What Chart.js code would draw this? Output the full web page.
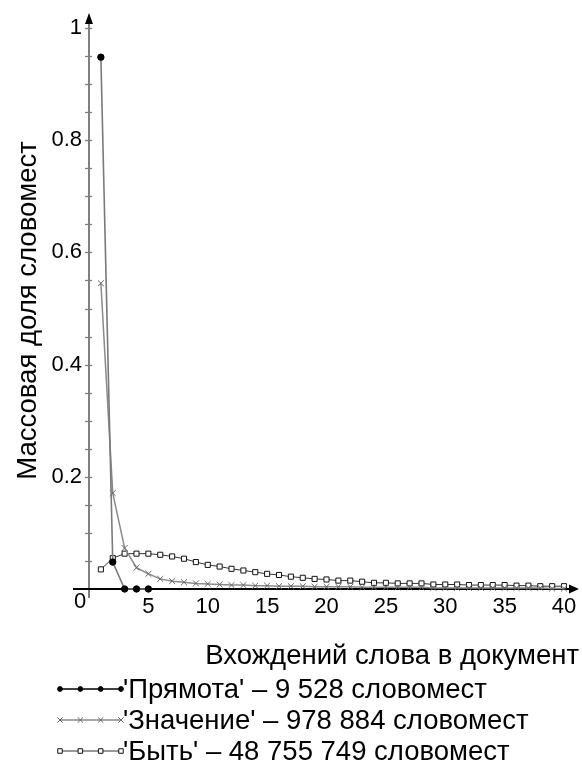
<!DOCTYPE html>
<html><head><meta charset="utf-8">
<script src="https://cdn.jsdelivr.net/npm/chart.js@4.4.1/dist/chart.umd.min.js"></script>
<style>html,body{margin:0;padding:0;background:#fff;}#wrap{width:582px;height:772px;}</style>
</head><body><div id="wrap"><canvas id="c" width="582" height="772"></canvas></div>
<script>
// ---- data ----
const occurrences = [1,2,3,4,5,6,7,8,9,10,11,12,13,14,15,16,17,18,19,20,21,22,23,24,25,26,27,28,29,30,31,32,33,34,35,36,37,38,39,40];
const pryamota = [0.948,0.048,0,0,0];
const znachenie = [0.545,0.171,0.073,0.038,0.027,0.018,0.014,0.012,0.010,0.009,0.008,0.007,0.007,0.006,0.006,0.005,0.005,0.005,0.004,0.004,0.004,0.004,0.003,0.003,0.003,0.003,0.003,0.003,0.002,0.002,0.002,0.002,0.002,0.002,0.002,0.002,0.002,0.002,0.001,0.001];
const byt = [0.035,0.055,0.063,0.063,0.063,0.061,0.058,0.054,0.048,0.043,0.040,0.036,0.033,0.030,0.027,0.025,0.022,0.020,0.018,0.017,0.015,0.015,0.013,0.011,0.011,0.010,0.010,0.010,0.008,0.008,0.008,0.007,0.007,0.007,0.007,0.006,0.006,0.005,0.005,0.005];
const seriesLabels = ["'Прямота' – 9 528 словомест","'Значение' – 978 884 словомест","'Быть' – 48 755 749 словомест"];
const xTickStep = 5;
const yTickStep = 0.2;
const yMinorStep = 0.05;
const xTitle = 'Вхождений слова в документ';
const yTitle = 'Массовая доля словомест';
const originLabel = '0';

const FONT = "'Liberation Sans', Arial, sans-serif";
const toXY = (vals) => vals.map((v,i)=>({x:occurrences[i], y:v}));

const deco = {
  id:'deco',
  beforeDatasetsDraw(chart){
    const {ctx, scales:{x,y}} = chart;
    const x0 = x.getPixelForValue(0), y0 = y.getPixelForValue(0);
    ctx.save();
    ctx.strokeStyle='#808080'; ctx.lineWidth=2;
    ctx.beginPath(); ctx.moveTo(x0, y0+9); ctx.lineTo(x0, y.top-8); ctx.stroke();
    ctx.lineWidth=1.3;
    for (let v=yMinorStep; v<=1.0001; v+=yMinorStep){
      const py = Math.round(y.getPixelForValue(v))+0.5;
      ctx.beginPath(); ctx.moveTo(x0-4,py); ctx.lineTo(x0+3,py); ctx.stroke();
    }
    ctx.fillStyle='#000';
    ctx.beginPath(); ctx.moveTo(x0, y.top-15); ctx.lineTo(x0-4, y.top-4); ctx.lineTo(x0+4, y.top-4); ctx.closePath(); ctx.fill();
    ctx.strokeStyle='#000'; ctx.lineWidth=2;
    ctx.beginPath(); ctx.moveTo(x0-16, y0); ctx.lineTo(x.right+8, y0); ctx.stroke();
    ctx.beginPath(); ctx.moveTo(x.right+15, y0); ctx.lineTo(x.right+5, y0-4.5); ctx.lineTo(x.right+5, y0+4.5); ctx.closePath(); ctx.fill();
    ctx.restore();
  },
  afterDraw(chart){
    const {ctx, scales:{x,y}} = chart;
    const x0 = x.getPixelForValue(0), y0 = y.getPixelForValue(0);
    ctx.save();
    ctx.fillStyle='#000';
    ctx.font = '22px '+FONT;
    ctx.textAlign='center'; ctx.textBaseline='middle';
    ctx.fillText(originLabel, x0-9, y0+13);
    ctx.font = '27.5px '+FONT;
    ctx.save();
    ctx.translate(28, (y.top+y.bottom)/2+2);
    ctx.rotate(-Math.PI/2);
    ctx.fillText(yTitle, 0, 0);
    ctx.restore();
    ctx.textAlign='right';
    ctx.fillText(xTitle, 579, 656);
    const sets = chart.data.datasets;
    ctx.textAlign='left';
    for (let i=0;i<sets.length;i++){
      const ds = sets[i];
      const ly = 689 + i*31;
      ctx.strokeStyle = ds.legendLineColor; ctx.lineWidth = 1.3;
      ctx.beginPath(); ctx.moveTo(60, ly); ctx.lineTo(121, ly); ctx.stroke();
      for (let k=0;k<4;k++){
        const px = 60 + k*(121-60)/3;
        ctx.fillStyle = ds.pointBackgroundColor; ctx.strokeStyle = ds.pointBorderColor; ctx.lineWidth = 1;
        Chart.helpers.drawPoint(ctx, {pointStyle: ds.pointStyle, radius: ds.legendRadius, borderWidth: 1}, px, ly);
      }
      ctx.fillStyle='#000';
      ctx.fillText(seriesLabels[i], 123, ly+1);
    }
    ctx.restore();
  }
};

new Chart(document.getElementById('c'), {
  type:'line',
  data:{ datasets:[
    {label:seriesLabels[0], data:toXY(pryamota), borderColor:'#7a7a7a', borderWidth:1.6, legendLineColor:'#000',
     pointStyle:'circle', pointRadius:3.2, legendRadius:2.4, pointBackgroundColor:'#000', pointBorderColor:'#000', pointBorderWidth:1, clip:false},
    {label:seriesLabels[1], data:toXY(znachenie), borderColor:'#8a8a8a', borderWidth:1.5, legendLineColor:'#8a8a8a',
     pointStyle:'crossRot', pointRadius:4.2, legendRadius:3.8, pointBackgroundColor:'#666', pointBorderColor:'#666', pointBorderWidth:1, clip:false},
    {label:seriesLabels[2], data:toXY(byt), borderColor:'#333', borderWidth:1, legendLineColor:'#777',
     pointStyle:'rect', pointRadius:3.6, legendRadius:3.2, pointBackgroundColor:'#fff', pointBorderColor:'#111', pointBorderWidth:1, clip:false}
  ]},
  options:{
    responsive:false, animation:false, devicePixelRatio:1,
    layout:{padding:{top:28,right:18,left:0,bottom:0}},
    elements:{line:{tension:0}},
    plugins:{legend:{display:false}, tooltip:{enabled:false}},
    scales:{
      x:{type:'linear', min:0, max:40,
         grid:{display:false, drawTicks:false}, border:{display:false},
         ticks:{stepSize:xTickStep, color:'#000', font:{family:FONT,size:22}, padding:5, maxRotation:0,
                callback:(v)=> v===0 ? '' : String(v)},
         afterFit:(s)=>{ s.height = 183; }},
      y:{min:0, max:1,
         grid:{display:false, drawTicks:false}, border:{display:false},
         ticks:{stepSize:yTickStep, color:'#000', font:{family:FONT,size:22}, padding:7,
                callback:(v)=> Math.abs(v)<1e-9 ? '' : String(Math.round(v*10)/10)},
         afterFit:(s)=>{ s.width = 89; }}
    }
  },
  plugins:[deco]
});
</script></body></html>
